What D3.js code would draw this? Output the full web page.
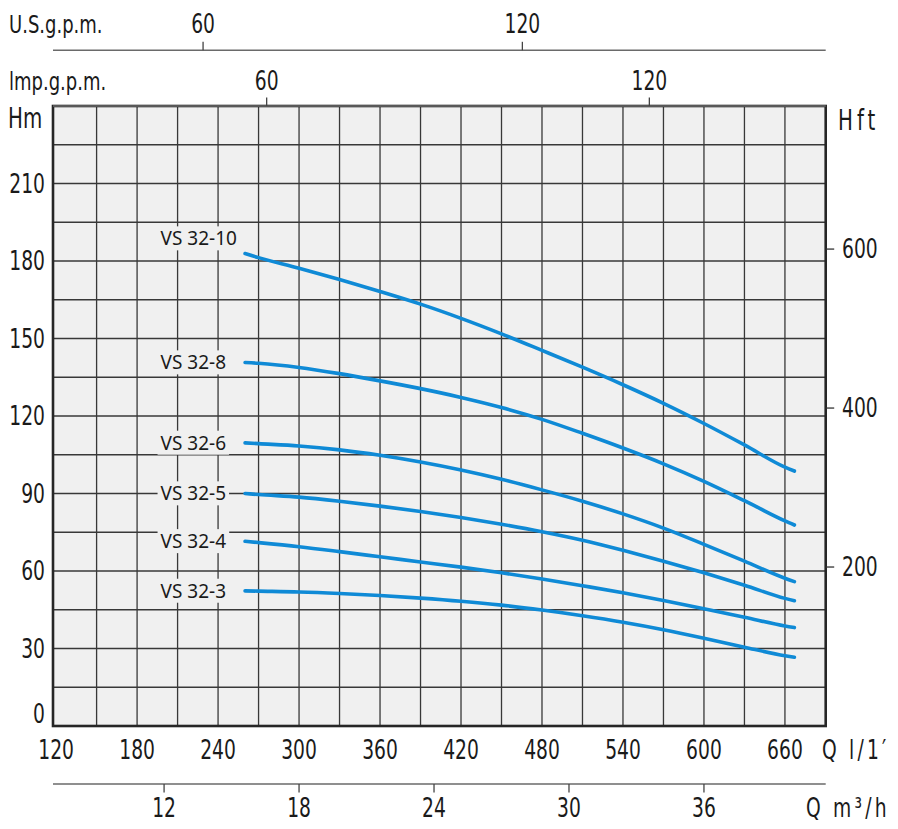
<!DOCTYPE html>
<html>
<head>
<meta charset="utf-8">
<script src="https://cdn.jsdelivr.net/npm/d3@7"></script>
<style>
  body { margin: 0; background: #fff; }
  svg text { font-family: "DejaVu Sans Condensed", "Liberation Sans Narrow", sans-serif; fill: #1a1a1a; }
  svg text.curve-label { font-family: "Noto Sans", "Open Sans", sans-serif; }
</style>
</head>
<body>
<svg id="chart" width="898" height="829"></svg>
<script>
// flow points (l/min) where the curves were read
var flowLmin = [260, 270, 300, 330, 360, 390, 420, 450, 480, 510, 540, 570, 600, 630, 660, 667];

// head (m) for each pump
var headVS3210 = [182.9, 181.3, 177.2, 172.8, 168.2, 163.3, 157.8, 151.8, 145.4, 138.9, 132.1, 124.9, 117.1, 108.8, 100.2, 98.7];
var headVS328  = [140.7, 140.4, 138.8, 136.4, 133.6, 130.6, 127.2, 123.3, 118.7, 113.3, 107.6, 101.5, 94.7, 87.2, 79.4, 77.8];
var headVS326  = [109.6, 109.3, 108.4, 106.9, 104.8, 102.2, 99.1, 95.5, 91.4, 87.0, 82.1, 76.6, 70.3, 63.8, 57.2, 55.9];
var headVS325  = [90.0, 89.6, 88.6, 87.0, 85.1, 83.0, 80.7, 78.1, 75.2, 71.9, 68.0, 63.8, 59.3, 54.5, 49.4, 48.5];
var headVS324  = [71.5, 71.0, 69.4, 67.5, 65.5, 63.5, 61.5, 59.3, 56.9, 54.3, 51.6, 48.6, 45.4, 42.1, 38.7, 38.1];
var headVS323  = [52.3, 52.2, 51.9, 51.3, 50.5, 49.5, 48.3, 46.8, 44.9, 42.7, 40.2, 37.3, 34.0, 30.5, 27.2, 26.6];

var curveNames = ["VS 32-10", "VS 32-8", "VS 32-6", "VS 32-5", "VS 32-4", "VS 32-3"];
var curveHeads = [headVS3210, headVS328, headVS326, headVS325, headVS324, headVS323];

// axis ticks
var lminTicks = [120, 180, 240, 300, 360, 420, 480, 540, 600, 660];
var lminGrid = [150, 180, 210, 240, 270, 300, 330, 360, 390, 420, 450, 480, 510, 540, 570, 600, 630, 660];
var headTicks = [0, 30, 60, 90, 120, 150, 180, 210];
var headGrid = [15, 30, 45, 60, 75, 90, 105, 120, 135, 150, 165, 180, 195, 210, 225];
var feetTicks = [200, 400, 600];
var usGpmTicks = [60, 120];
var impGpmTicks = [60, 120];
var m3hTicks = [12, 18, 24, 30, 36];

var svg = d3.select('#chart');
var plotLeft = 53, plotRight = 825.7, plotTop = 106, plotBottom = 726;
var SQUEEZE = 0.8;   // narrow the condensed font further, like the DIN lettering

var x = d3.scaleLinear().domain([117.7, 690.2]).range([plotLeft, plotRight]);
var y = d3.scaleLinear().domain([0, 240]).range([plotBottom, plotTop]);
var yFeet = d3.scaleLinear().domain([0, 780]).range([plotBottom, plotTop]);
var xUsGpm = d3.scaleLinear().domain([31.8, 177]).range([plotLeft, plotRight]);
var xImpGpm = d3.scaleLinear().domain([26.5, 147.65]).range([plotLeft, plotRight]);
var xM3h = d3.scaleLinear().domain([x.domain()[0] * 0.06, x.domain()[1] * 0.06]).range([plotLeft, plotRight]);

function squeezed(px, py) {
    return 'translate(' + px + ',' + py + ') scale(' + SQUEEZE + ',1)';
}

function addText(px, py, str, size, anchor) {
    return svg.append('text')
        .attr('transform', squeezed(px, py))
        .attr('text-anchor', anchor || 'start')
        .attr('font-size', size)
        .text(str);
}

// plot background
svg.append('rect')
    .attr('x', plotLeft).attr('y', plotTop)
    .attr('width', plotRight - plotLeft).attr('height', plotBottom - plotTop)
    .attr('fill', '#f0f0f0');

// grid
var grid = svg.append('g').attr('stroke', '#383838').attr('stroke-width', 1.3);
grid.selectAll('line.v').data(lminGrid).enter().append('line')
    .attr('x1', function(d) { return x(d); }).attr('x2', function(d) { return x(d); })
    .attr('y1', plotTop).attr('y2', plotBottom);
grid.selectAll('line.h').data(headGrid).enter().append('line')
    .attr('y1', function(d) { return y(d); }).attr('y2', function(d) { return y(d); })
    .attr('x1', plotLeft).attr('x2', plotRight);

// curves
var line = d3.line()
    .x(function(d) { return x(d[0]); })
    .y(function(d) { return y(d[1]); })
    .curve(d3.curveMonotoneX);

var curves = svg.append('g');
curveHeads.forEach(function(heads, i) {
    var pts = flowLmin.map(function(q, j) { return [q, heads[j]]; });
    curves.append('path')
        .attr('d', line(pts))
        .attr('fill', 'none')
        .attr('stroke', '#0f8ad6')
        .attr('stroke-width', 3.6)
        .attr('stroke-linecap', 'round');

    var dy = (i === 0) ? -15 : 0;
    var lbl = curves.append('g');
    var t = lbl.append('text')
        .attr('class', 'curve-label')
        .attr('x', x(flowLmin[0]) - 84.5)
        .attr('y', y(heads[0]) + dy)
        .attr('dy', '0.36em')
        .attr('font-size', 19)
        .text(curveNames[i]);
    var bb = t.node().getBBox();
    lbl.insert('rect', 'text')
        .attr('x', bb.x - 3).attr('y', bb.y + 1)
        .attr('width', bb.width + 6).attr('height', bb.height - 2)
        .attr('fill', '#f0f0f0');
});

// frame
svg.append('rect')
    .attr('x', plotLeft).attr('y', plotTop)
    .attr('width', plotRight - plotLeft).attr('height', plotBottom - plotTop)
    .attr('fill', 'none').attr('stroke', '#262626').attr('stroke-width', 2.6);

// left axis labels (Hm)
svg.selectAll('text.hm').data(headTicks).enter().append('text')
    .attr('transform', function(d) { return squeezed(45, d === 0 ? y(d) - 12 : y(d)); })
    .attr('dy', '0.36em')
    .attr('text-anchor', 'end')
    .attr('font-size', 26)
    .text(function(d) { return d; });
addText(8, 128, 'Hm', 27.5);

// right axis (Hft)
var rightAxis = svg.append('g');
rightAxis.selectAll('line').data(feetTicks).enter().append('line')
    .attr('x1', plotRight).attr('x2', plotRight + 8.5)
    .attr('y1', function(d) { return yFeet(d); }).attr('y2', function(d) { return yFeet(d); })
    .attr('stroke', '#333').attr('stroke-width', 1.3);
rightAxis.selectAll('text').data(feetTicks).enter().append('text')
    .attr('transform', function(d) { return squeezed(842, yFeet(d)); })
    .attr('dy', '0.36em')
    .attr('font-size', 26)
    .text(function(d) { return d; });
addText(838, 130, 'Hft', 27.5).attr('letter-spacing', 5);

// bottom axis labels (l/min)
svg.selectAll('text.lmin').data(lminTicks).enter().append('text')
    .attr('transform', function(d) { return squeezed(x(d), 759); })
    .attr('text-anchor', 'middle')
    .attr('font-size', 26)
    .text(function(d) { return d; });
addText(822, 759, 'Q l/1\u2032', 26).attr('letter-spacing', 4);

// secondary axes: US gpm, Imp gpm, m3/h
function auxAxis(scale, ticks, lineY, tickDir, labelY) {
    var g = svg.append('g');
    g.append('line')
        .attr('x1', plotLeft).attr('x2', plotRight)
        .attr('y1', lineY).attr('y2', lineY)
        .attr('stroke', '#6a6a6a').attr('stroke-width', 1.6);
    g.selectAll('line.tick').data(ticks).enter().append('line')
        .attr('x1', function(d) { return scale(d); }).attr('x2', function(d) { return scale(d); })
        .attr('y1', lineY).attr('y2', lineY + tickDir * 8.5)
        .attr('stroke', '#444').attr('stroke-width', 1.3);
    g.selectAll('text').data(ticks).enter().append('text')
        .attr('transform', function(d) { return squeezed(scale(d), labelY); })
        .attr('text-anchor', 'middle')
        .attr('font-size', 26)
        .text(function(d) { return d; });
}
auxAxis(xUsGpm, usGpmTicks, 50.3, -1, 33);
auxAxis(xImpGpm, impGpmTicks, plotTop, -1, 90);
auxAxis(xM3h, m3hTicks, 784, 1, 817);

addText(9, 33, 'U.S.g.p.m.', 25);
addText(9, 90, 'lmp.g.p.m.', 25);
addText(806, 817, 'Q m\u00b3/h', 26).attr('letter-spacing', 4);
</script>
</body>
</html>
